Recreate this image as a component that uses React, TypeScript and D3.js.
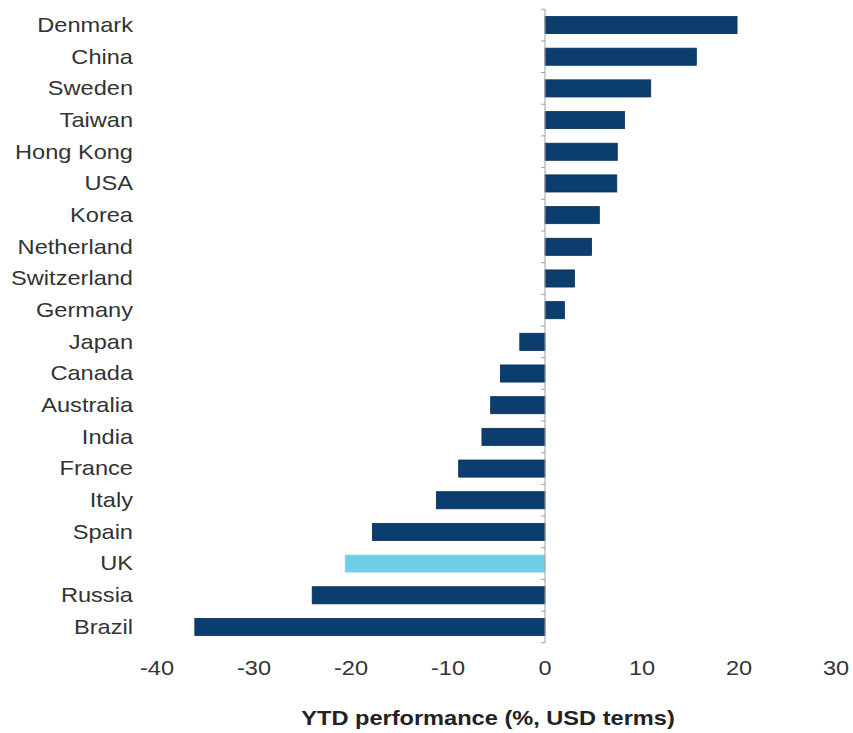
import React from "react";
import * as d3 from "d3";

const countries = ["Denmark","China","Sweden","Taiwan","Hong Kong","USA","Korea","Netherland","Switzerland","Germany","Japan","Canada","Australia","India","France","Italy","Spain","UK","Russia","Brazil"];
const values = [19.8,15.6,10.9,8.2,7.45,7.4,5.6,4.8,3.05,2.0,-2.6,-4.6,-5.6,-6.5,-8.9,-11.2,-17.8,-20.6,-24.0,-36.1];
const highlight = ["UK"];
const xTicks = [-40,-30,-20,-10,0,10,20,30];
const xTitle = "YTD performance (%, USD terms)";

const W = 853, H = 733;
const SX = 1.18;

export default function App() {
  const x = d3.scaleLinear().domain([-40, 30]).range([157, 836]);
  const y = d3.scaleBand<string>().domain(countries).range([9.2, 642.8]).paddingInner(0.46).paddingOuter(0.23);
  const step = y.step();
  const bw = y.bandwidth();
  const x0 = x(0);
  const boundaries = countries.map(c => (y(c) as number) + bw / 2 - step / 2).concat([(y(countries[countries.length - 1]) as number) + bw / 2 + step / 2]);

  return (
    <svg width={W} height={H} style={{ position: "absolute", left: 0, top: 0, background: "#fff" }} fontFamily="Liberation Sans, Arial, sans-serif">
      <rect x={0} y={0} width={W} height={H} fill="#fff" />
      {countries.map((c, i) => {
        const v = values[i];
        const yy = y(c) as number;
        return (
          <rect key={c} x={Math.min(x(v), x0)} y={yy} width={Math.abs(x(v) - x0)} height={bw}
            fill={highlight.includes(c) ? "#6fcfe5" : "#0b3d6e"} stroke={highlight.includes(c) ? "#8fd8ea" : "#0a2f55"} strokeWidth={0.8} />
        );
      })}
      <line x1={x0} x2={x0} y1={boundaries[0]} y2={boundaries[boundaries.length - 1]} stroke="#a0a0a0" strokeWidth={1} />
      {boundaries.map((b, i) => (
        <line key={i} x1={x0 - 4} x2={x0} y1={b} y2={b} stroke="#a0a0a0" strokeWidth={1} />
      ))}
      {countries.map(c => (
        <g key={c} transform={`translate(133,${(y(c) as number) + bw / 2}) scale(${SX},1)`}>
          <text textAnchor="end" dominantBaseline="central" fontSize={20} fill="#333">{c}</text>
        </g>
      ))}
      {xTicks.map(t => (
        <g key={t} transform={`translate(${x(t)},668) scale(${SX},1)`}>
          <text textAnchor="middle" dominantBaseline="central" fontSize={20} fill="#333">{t}</text>
        </g>
      ))}
      <g transform={`translate(488,718) scale(${SX},1)`}>
        <text textAnchor="middle" dominantBaseline="central" fontSize={20} fontWeight="bold" fill="#222">{xTitle}</text>
      </g>
    </svg>
  );
}
